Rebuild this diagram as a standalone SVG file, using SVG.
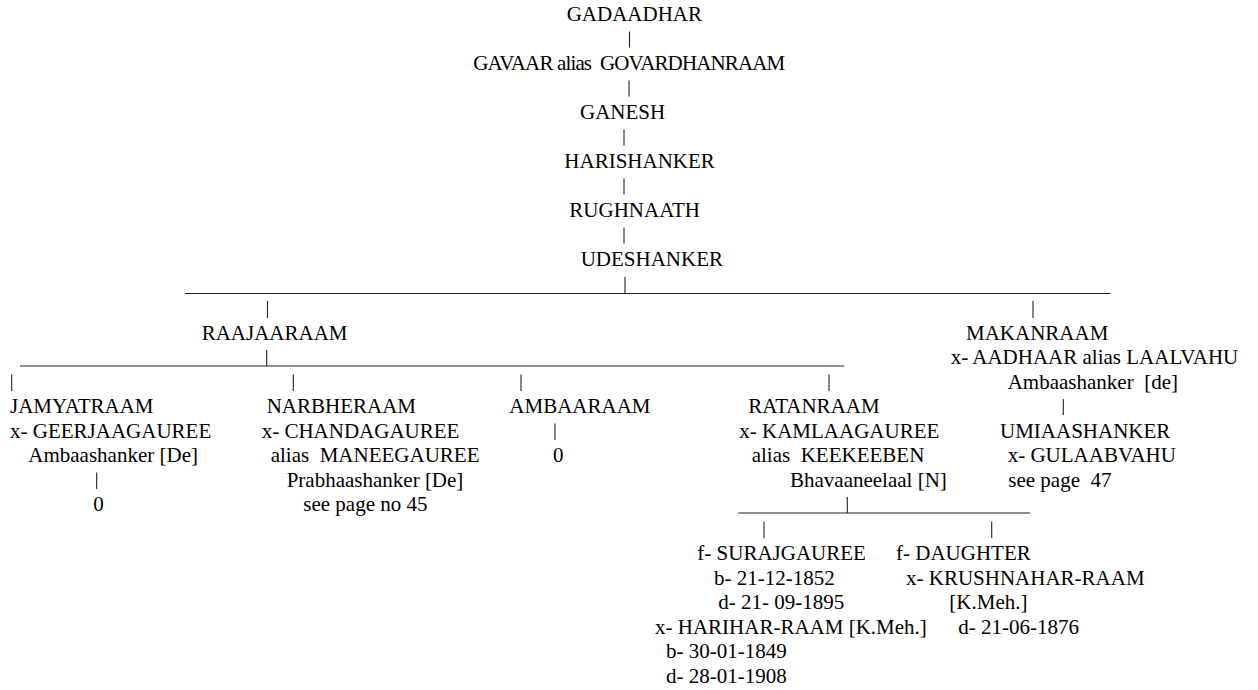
<svg xmlns="http://www.w3.org/2000/svg" width="1258" height="690" viewBox="0 0 1258 690">
<rect width="1258" height="690" fill="#fff"/>
<g id="connectors" stroke="#222" stroke-width="1.1">
  <line x1="629.5" y1="31.5" x2="629.5" y2="47.5"/>
  <line x1="629" y1="80.5" x2="629" y2="96.5"/>
  <line x1="624" y1="129.5" x2="624" y2="145.5"/>
  <line x1="624" y1="178.5" x2="624" y2="194.5"/>
  <line x1="624" y1="227.5" x2="624" y2="243.5"/>
  <line x1="625" y1="277" x2="625" y2="293.5"/>
  <line x1="185" y1="293.5" x2="1110.5" y2="293.5"/>
  <line x1="267.5" y1="301" x2="267.5" y2="318"/>
  <line x1="1033" y1="301" x2="1033" y2="318"/>
  <line x1="266.7" y1="350" x2="266.7" y2="366"/>
  <line x1="20" y1="366" x2="844.3" y2="366"/>
  <line x1="11.7" y1="374.5" x2="11.7" y2="391"/>
  <line x1="293.3" y1="374.5" x2="293.3" y2="391"/>
  <line x1="521" y1="374.5" x2="521" y2="391"/>
  <line x1="829" y1="374.5" x2="829" y2="391"/>
  <line x1="1063.3" y1="399" x2="1063.3" y2="415"/>
  <line x1="555" y1="423.5" x2="555" y2="440"/>
  <line x1="96.7" y1="472.5" x2="96.7" y2="489"/>
  <line x1="847.3" y1="497" x2="847.3" y2="513"/>
  <line x1="738.3" y1="513" x2="1030" y2="513"/>
  <line x1="764" y1="521.5" x2="764" y2="538"/>
  <line x1="991.7" y1="521.5" x2="991.7" y2="538"/>
</g>
<g fill="#000">
<g id="n-gadaadhar"><text style="font-family:'Liberation Serif',serif;font-size:21px" font-family="Liberation Serif" font-size="21" x="566.7" y="21">GADAADHAR</text></g>
<g id="n-gavaar"><text style="font-family:'Liberation Serif',serif;font-size:21px" font-family="Liberation Serif" font-size="21" x="473.3" y="70" textLength="312">GAVAAR alias&#160; GOVARDHANRAAM</text></g>
<g id="n-ganesh"><text style="font-family:'Liberation Serif',serif;font-size:21px" font-family="Liberation Serif" font-size="21" x="580" y="119">GANESH</text></g>
<g id="n-harishanker"><text style="font-family:'Liberation Serif',serif;font-size:21px" font-family="Liberation Serif" font-size="21" x="564.3" y="168">HARISHANKER</text></g>
<g id="n-rughnaath"><text style="font-family:'Liberation Serif',serif;font-size:21px" font-family="Liberation Serif" font-size="21" x="569.3" y="217">RUGHNAATH</text></g>
<g id="n-udeshanker"><text style="font-family:'Liberation Serif',serif;font-size:21px" font-family="Liberation Serif" font-size="21" x="580.7" y="266">UDESHANKER</text></g>
<g id="n-raajaaraam"><text style="font-family:'Liberation Serif',serif;font-size:21px" font-family="Liberation Serif" font-size="21" x="201.7" y="339.5">RAAJAARAAM</text></g>
<g id="n-makanraam">
  <text style="font-family:'Liberation Serif',serif;font-size:21px" font-family="Liberation Serif" font-size="21" x="966" y="339.5">MAKANRAAM</text>
  <text style="font-family:'Liberation Serif',serif;font-size:21px" font-family="Liberation Serif" font-size="21" x="950.7" y="364">x- AADHAAR alias LAALVAHU</text>
  <text style="font-family:'Liberation Serif',serif;font-size:21px" font-family="Liberation Serif" font-size="21" x="1007.7" y="388.5">Ambaashanker&#160; [de]</text>
</g>
<g id="n-umiaashanker">
  <text style="font-family:'Liberation Serif',serif;font-size:21px" font-family="Liberation Serif" font-size="21" x="1000" y="437.5">UMIAASHANKER</text>
  <text style="font-family:'Liberation Serif',serif;font-size:21px" font-family="Liberation Serif" font-size="21" x="1007.7" y="462">x- GULAABVAHU</text>
  <text style="font-family:'Liberation Serif',serif;font-size:21px" font-family="Liberation Serif" font-size="21" x="1008.3" y="486.5">see page&#160; 47</text>
</g>
<g id="n-jamyatraam">
  <text style="font-family:'Liberation Serif',serif;font-size:21px" font-family="Liberation Serif" font-size="21" x="10" y="413">JAMYATRAAM</text>
  <text style="font-family:'Liberation Serif',serif;font-size:21px" font-family="Liberation Serif" font-size="21" x="10" y="437.5">x- GEERJAAGAUREE</text>
  <text style="font-family:'Liberation Serif',serif;font-size:21px" font-family="Liberation Serif" font-size="21" x="28.3" y="462">Ambaashanker [De]</text>
</g>
<g id="n-jamyatraam-child"><text style="font-family:'Liberation Serif',serif;font-size:21px" font-family="Liberation Serif" font-size="21" x="93.3" y="511">0</text></g>
<g id="n-narbheraam">
  <text style="font-family:'Liberation Serif',serif;font-size:21px" font-family="Liberation Serif" font-size="21" x="266.7" y="413">NARBHERAAM</text>
  <text style="font-family:'Liberation Serif',serif;font-size:21px" font-family="Liberation Serif" font-size="21" x="261.7" y="437.5">x- CHANDAGAUREE</text>
  <text style="font-family:'Liberation Serif',serif;font-size:21px" font-family="Liberation Serif" font-size="21" x="270.7" y="462">alias&#160; MANEEGAUREE</text>
  <text style="font-family:'Liberation Serif',serif;font-size:21px" font-family="Liberation Serif" font-size="21" x="286.7" y="486.5">Prabhaashanker [De]</text>
  <text style="font-family:'Liberation Serif',serif;font-size:21px" font-family="Liberation Serif" font-size="21" x="303.3" y="511">see page no 45</text>
</g>
<g id="n-ambaaraam"><text style="font-family:'Liberation Serif',serif;font-size:21px" font-family="Liberation Serif" font-size="21" x="509.3" y="413">AMBAARAAM</text></g>
<g id="n-ambaaraam-child"><text style="font-family:'Liberation Serif',serif;font-size:21px" font-family="Liberation Serif" font-size="21" x="553" y="462">0</text></g>
<g id="n-ratanraam">
  <text style="font-family:'Liberation Serif',serif;font-size:21px" font-family="Liberation Serif" font-size="21" x="748.3" y="413">RATANRAAM</text>
  <text style="font-family:'Liberation Serif',serif;font-size:21px" font-family="Liberation Serif" font-size="21" x="739.3" y="437.5">x- KAMLAAGAUREE</text>
  <text style="font-family:'Liberation Serif',serif;font-size:21px" font-family="Liberation Serif" font-size="21" x="751.7" y="462">alias&#160; KEEKEEBEN</text>
  <text style="font-family:'Liberation Serif',serif;font-size:21px" font-family="Liberation Serif" font-size="21" x="790" y="486.5">Bhavaaneelaal [N]</text>
</g>
<g id="n-surajgauree">
  <text style="font-family:'Liberation Serif',serif;font-size:21px" font-family="Liberation Serif" font-size="21" x="697.3" y="560">f- SURAJGAUREE</text>
  <text style="font-family:'Liberation Serif',serif;font-size:21px" font-family="Liberation Serif" font-size="21" x="714" y="584.5">b- 21-12-1852</text>
  <text style="font-family:'Liberation Serif',serif;font-size:21px" font-family="Liberation Serif" font-size="21" x="718.3" y="609">d- 21- 09-1895</text>
  <text style="font-family:'Liberation Serif',serif;font-size:21px" font-family="Liberation Serif" font-size="21" x="655" y="633.5">x- HARIHAR-RAAM [K.Meh.]</text>
  <text style="font-family:'Liberation Serif',serif;font-size:21px" font-family="Liberation Serif" font-size="21" x="666" y="658">b- 30-01-1849</text>
  <text style="font-family:'Liberation Serif',serif;font-size:21px" font-family="Liberation Serif" font-size="21" x="666" y="682.5">d- 28-01-1908</text>
</g>
<g id="n-daughter">
  <text style="font-family:'Liberation Serif',serif;font-size:21px" font-family="Liberation Serif" font-size="21" x="896" y="560">f- DAUGHTER</text>
  <text style="font-family:'Liberation Serif',serif;font-size:21px" font-family="Liberation Serif" font-size="21" x="906" y="584.5">x- KRUSHNAHAR-RAAM</text>
  <text style="font-family:'Liberation Serif',serif;font-size:21px" font-family="Liberation Serif" font-size="21" x="949.3" y="609">[K.Meh.]</text>
  <text style="font-family:'Liberation Serif',serif;font-size:21px" font-family="Liberation Serif" font-size="21" x="958.3" y="633.5">d- 21-06-1876</text>
</g>
</g>
</svg>
